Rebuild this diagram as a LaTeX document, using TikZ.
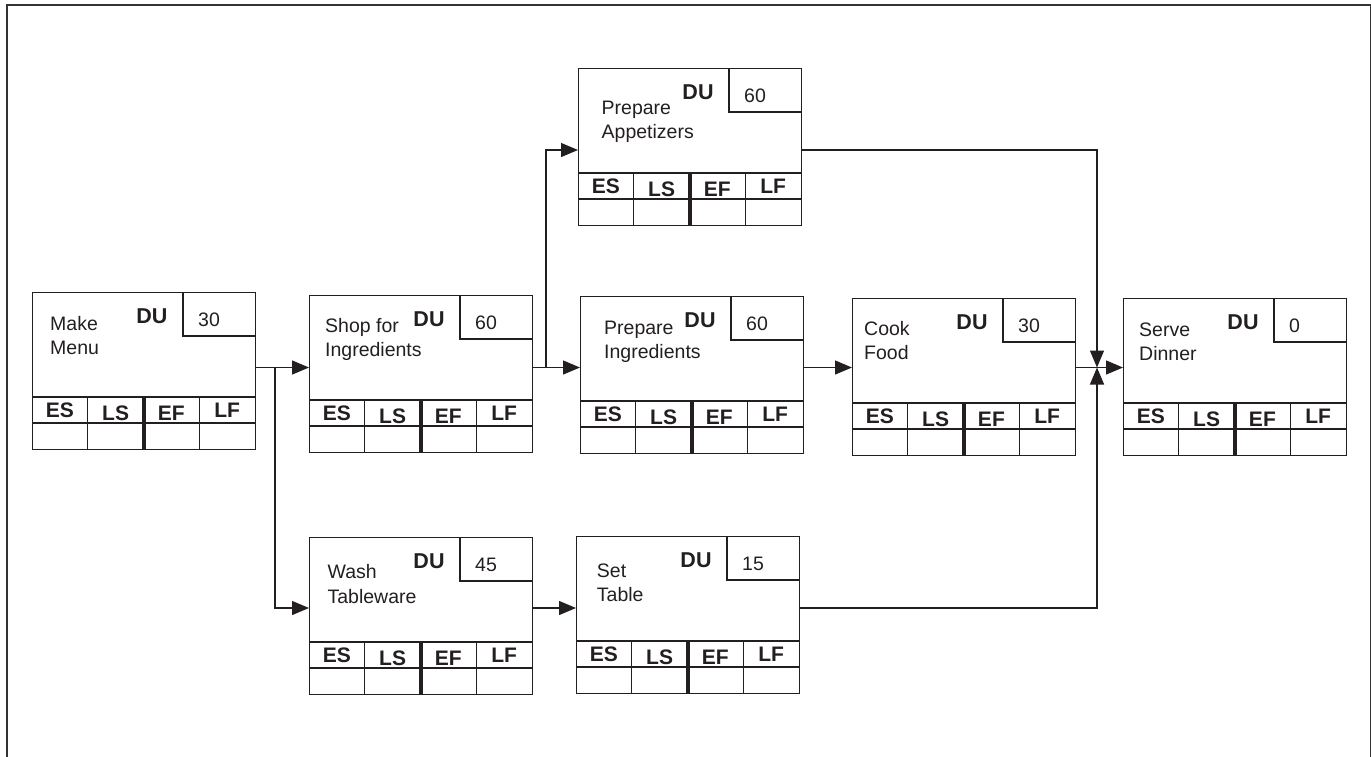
\documentclass[tikz,border=0pt]{standalone}
\usepackage{fontspec}
\setmainfont{Liberation Sans}
\usetikzlibrary{arrows.meta,calc}
\definecolor{ink}{HTML}{231F20}
\tikzset{
  actbox/.style={draw=ink, line width=1.3pt, minimum width=223pt, minimum height=157pt, inner sep=0pt, anchor=north west},
  ln/.style={draw=ink, line width=1.2pt},
  sepline/.style={draw=ink, line width=4pt},
  lbl/.style={font=\fontsize{19.5}{24}\selectfont, anchor=base west, inner sep=0pt, text=ink},
  dulbl/.style={font=\fontsize{21.5}{24}\selectfont\bfseries, inner sep=0pt, text=ink},
  numlbl/.style={font=\fontsize{19.5}{24}\selectfont, anchor=base west, inner sep=0pt, text=ink},
  hdr/.style={font=\fontsize{21}{24}\selectfont\bfseries, inner sep=0pt, text=ink},
  arr/.style={draw=ink, line width=1.3pt, -{Triangle[length=17pt,width=14pt]}},
  conn/.style={draw=ink, line width=1.3pt},
}
% #1 name, #2 left, #3 top, #4 line1, #5 line2, #6 duration, #7 text dx, #8 text baseline dy
\newcommand\actbox[8]{%
  \begin{scope}[shift={(#2,#3)}]
    \node[actbox] (#1) at (0,0) {};
    \draw[ln] (151,0) -- (151,44) -- (223,44);
    \draw[ln] (0,105) -- (223,105);
    \draw[ln] (0,131) -- (223,131);
    \draw[ln] (55.75,105) -- (55.75,157);
    \draw[ln] (167.25,105) -- (167.25,157);
    \draw[sepline] (111.5,105) -- (111.5,157);
    \node[dulbl] (#1-du) at (120,24) {DU};
    \node[numlbl] (#1-num) at (166,34) {#6};
    \node[lbl] (#1-l1) at (#7,#8) {#4};
    \node[lbl] (#1-l2) at (#7,#8+24.5) {#5};
    \node[hdr] (#1-es) at (27.9,118.5) {ES};
    \node[hdr] (#1-ls) at (83.6,121.5) {LS};
    \node[hdr] (#1-ef) at (139.4,121.5) {EF};
    \node[hdr] (#1-lf) at (195.1,118.5) {LF};
  \end{scope}}
\begin{document}
\begin{tikzpicture}[x=1pt,y=-1pt]
\useasboundingbox (0,0) rectangle (1371,756);
\draw[black!80, line width=2pt] (6.5,770) -- (6.5,4.5) -- (1370.5,4.5) -- (1370.5,770);

\actbox{mm}{32}{292}{Make}{Menu}{30}{18}{38}
\actbox{sfi}{309}{295}{Shop for}{Ingredients}{60}{16}{37}
\actbox{pa}{578}{68}{Prepare}{Appetizers}{60}{23.5}{46}
\actbox{pi}{580}{296}{Prepare}{Ingredients}{60}{24}{38}
\actbox{cf}{852}{298}{Cook}{Food}{30}{12}{37}
\actbox{sd}{1123}{298}{Serve}{Dinner}{0}{16}{38}
\actbox{wt}{309}{537}{Wash}{Tableware}{45}{18.4}{41.7}
\actbox{st}{576}{536}{Set}{Table}{15}{20.7}{41}

\coordinate (rowy) at (0,367.5);
\coordinate (ay) at (0,150);
\coordinate (wy) at (0,608);
\coordinate (j1) at (275,367.5);
\coordinate (j2) at (546,367.5);
\coordinate (j3) at (1097,367.5);

\draw[conn] (mm.east |- rowy) -- (j1);
\draw[arr] (j1) -- (sfi.west |- rowy);
\draw[arr] (j1) |- (wt.west |- wy);
\draw[conn] (sfi.east |- rowy) -- (j2);
\draw[arr] (j2) -- (pi.west |- rowy);
\draw[arr] (j2) |- (pa.west |- ay);
\draw[arr] (pi.east |- rowy) -- (cf.west |- rowy);
\draw[arr] (cf.east |- rowy) -- (sd.west |- rowy);
\draw[arr] (pa.east |- ay) -| (j3);
\draw[arr] (wt.east |- wy) -- (st.west |- wy);
\draw[arr] (st.east |- wy) -| (j3);
\end{tikzpicture}
\end{document}
